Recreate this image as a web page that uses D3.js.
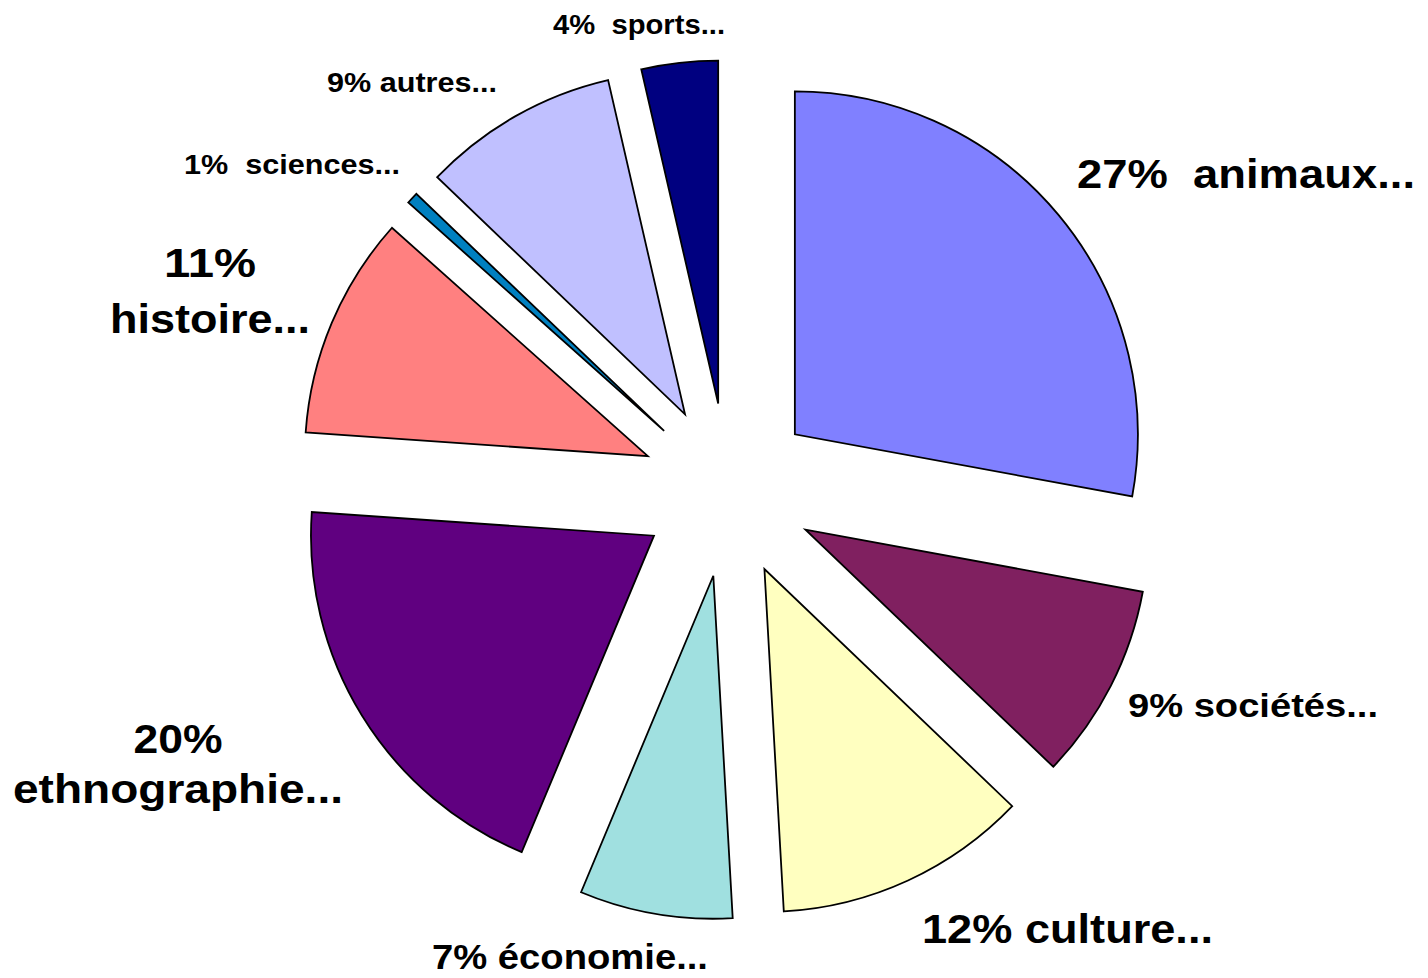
<!DOCTYPE html>
<html>
<head>
<meta charset="utf-8">
<script src="https://cdn.jsdelivr.net/npm/d3@7"></script>
<style>
  html, body { margin: 0; padding: 0; background: #ffffff; }
  svg { display: block; }
  text { font-family: "Liberation Sans", Arial, sans-serif; font-weight: bold; fill: #000; white-space: pre; }
</style>
</head>
<body>
<svg id="chart" width="1428" height="978"></svg>
<script>
// ---- data ----
const categories = ["animaux", "sociétés", "culture", "économie", "ethnographie", "histoire", "sciences", "autres", "sports"];
const values = [27.9, 9.25, 11.95, 7.2, 19.8, 10.5, 0.55, 9.25, 3.6];
const labelLines = [
  ["27%\u00a0 animaux..."],
  ["9% sociétés..."],
  ["12% culture..."],
  ["7% économie..."],
  ["20%", "ethnographie..."],
  ["11%", "histoire..."],
  ["1%\u00a0 sciences..."],
  ["9% autres..."],
  ["4%\u00a0 sports..."]
];
const colors = ["#8080FF", "#802060", "#FFFFC0", "#A0E0E0", "#600080", "#FF8080", "#0080C0", "#C0C0FF", "#000080"];

// ---- layout (positions/sizes, not data) ----
const cx = 728, cy = 490, radius = 343, explode = 87;
const labelLayout = [
  {anchor: "start",  x: 1077, y: [188],      size: 41, w: [338]},
  {anchor: "start",  x: 1128, y: [717],      size: 34, w: [250]},
  {anchor: "start",  x: 922,  y: [943],      size: 41, w: [291]},
  {anchor: "start",  x: 432,  y: [969],      size: 35, w: [276]},
  {anchor: "middle", x: 178,  y: [753, 803], size: 41, w: [89, 330]},
  {anchor: "middle", x: 210,  y: [277, 333], size: 41, w: [92, 200]},
  {anchor: "start",  x: 184,  y: [174],      size: 28, w: [216]},
  {anchor: "start",  x: 327,  y: [92],       size: 28, w: [170]},
  {anchor: "start",  x: 553,  y: [34],       size: 27, w: [172]}
];

const svg = d3.select("#chart");
const data = categories.map((c, i) => ({cat: c, value: values[i], i}));

const pie = d3.pie().sort(null).value(d => d.value).startAngle(0).endAngle(2 * Math.PI);
const arc = d3.arc().innerRadius(0).outerRadius(radius);
const arcs = pie(data);

const g = svg.append("g").attr("transform", `translate(${cx},${cy})`);
g.selectAll("path.slice")
  .data(arcs)
  .join("path")
  .attr("class", "slice")
  .attr("d", arc)
  .attr("transform", d => {
    const mid = (d.startAngle + d.endAngle) / 2;
    return `translate(${explode * Math.sin(mid)},${-explode * Math.cos(mid)})`;
  })
  .attr("fill", d => colors[d.data.i])
  .attr("stroke", "#000")
  .attr("stroke-width", 1.8)
  .attr("stroke-linejoin", "miter");

// labels
arcs.forEach((d, i) => {
  const L = labelLayout[i];
  labelLines[i].forEach((line, k) => {
    const t = svg.append("text")
      .attr("x", L.x)
      .attr("y", L.y[k])
      .attr("text-anchor", L.anchor)
      .attr("font-size", L.size)
      .text(line);
    const nat = t.node().getComputedTextLength();
    if (L.w[k] && Math.abs(nat - L.w[k]) > 3) {
      t.attr("textLength", L.w[k]).attr("lengthAdjust", "spacingAndGlyphs");
    }
  });
});
</script>
</body>
</html>
